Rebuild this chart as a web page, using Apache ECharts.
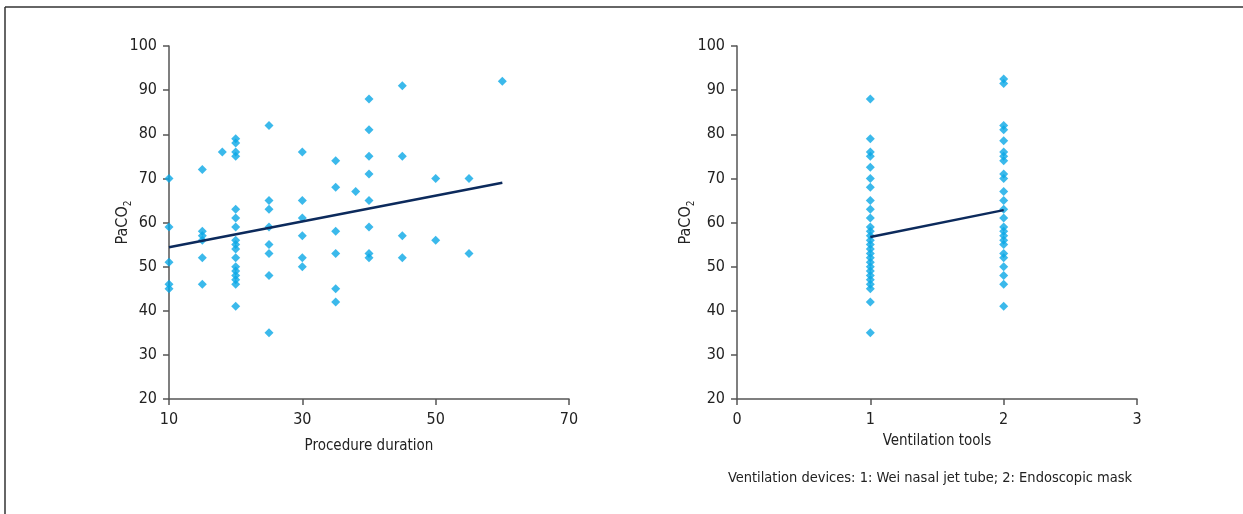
<!DOCTYPE html>
<html>
<head>
<meta charset="utf-8">
<script src="https://cdn.jsdelivr.net/npm/echarts@6/dist/echarts.min.js"></script>
<style>
  html, body { margin: 0; padding: 0; background: #fff; }
  #chart { width: 1243px; height: 514px; }
</style>
</head>
<body>
<div id="chart"></div>
<script>
// left panel: procedure duration vs PaCO2
const durationX = [
  10, 10, 10, 10, 10,
  15, 15, 15, 15, 15, 15,
  18,
  20, 20, 20, 20, 20, 20, 20, 20, 20, 20, 20, 20, 20, 20, 20, 20, 20,
  25, 25, 25, 25, 25, 25, 25, 25,
  30, 30, 30, 30, 30, 30,
  35, 35, 35, 35, 35, 35,
  38,
  40, 40, 40, 40, 40, 40, 40, 40,
  45, 45, 45, 45,
  50, 50,
  55, 55,
  60
];
const durationY = [
  70, 59, 51, 46, 45,
  72, 58, 57, 56, 52, 46,
  76,
  79, 78, 76, 75, 63, 61, 59, 56, 55, 54, 52, 50, 49, 48, 47, 46, 41,
  82, 65, 63, 59, 55, 53, 48, 35,
  76, 65, 61, 57, 52, 50,
  74, 68, 58, 53, 45, 42,
  67,
  88, 81, 75, 71, 65, 59, 53, 52,
  91, 75, 57, 52,
  70, 56,
  70, 53,
  92
];
const durationFitX = [10, 60];
const durationFitY = [54.4, 69.0];

// right panel: ventilation tool vs PaCO2
const tool1Y = [88, 79, 76, 75, 72.5, 70, 68, 65, 63, 61, 59, 58, 57, 56, 55, 54, 53, 52, 51, 50, 49, 48, 47, 46, 45, 42, 35];
const tool2Y = [92.5, 91.5, 82, 81, 78.5, 76, 75, 74, 71, 70, 67, 65, 63, 61, 59, 58, 57, 56, 55, 53, 52, 50, 48, 46, 41];
const toolFitX = [1, 2];
const toolFitY = [56.7, 62.8];

const yTicks = [20, 30, 40, 50, 60, 70, 80, 90, 100];

const FONT = '"Liberation Sans Narrow", "DejaVu Sans Condensed", "Roboto", sans-serif';
const axisColor = '#555';
const dotColor = '#0aa7e6';
const lineColor = '#0c2a5c';

const pairs = (xs, ys) => xs.map((x, i) => [x, ys[i]]);
const toolPoints = tool1Y.map(v => [1, v]).concat(tool2Y.map(v => [2, v]));

function xAxisOf(idx, min, max, interval, name, gap) {
  return {
    gridIndex: idx, type: 'value', min, max, interval,
    name, nameLocation: 'middle', nameGap: gap,
    nameTextStyle: { fontFamily: FONT, fontSize: 15, color: '#222' },
    axisLine: { lineStyle: { color: axisColor, width: 1.5 } },
    axisTick: { show: true, length: 6, lineStyle: { color: axisColor, width: 1.5 } },
    axisLabel: { fontFamily: FONT, fontSize: 16, color: '#222', margin: 13 },
    splitLine: { show: false }
  };
}

function yAxisOf(idx, gap) {
  return {
    gridIndex: idx, type: 'value', min: yTicks[0], max: yTicks[yTicks.length - 1], interval: 10,
    name: '{a|PaCO}{b|2}', nameLocation: 'middle', nameGap: gap,
    nameMoveOverlap: false,
    nameTextStyle: {
      rich: {
        a: { fontFamily: FONT, fontSize: 16, color: '#222' },
        b: { fontFamily: FONT, fontSize: 10, color: '#222', padding: [10, 0, 0, 0] }
      }
    },
    axisLine: { show: true, lineStyle: { color: axisColor, width: 1.5 } },
    axisTick: { show: true, length: 6, lineStyle: { color: axisColor, width: 1.5 } },
    axisLabel: { fontFamily: FONT, fontSize: 16, color: '#222', margin: 12 },
    splitLine: { show: false }
  };
}

const chart = echarts.init(document.getElementById('chart'));

chart.setOption({
  animation: false,
  backgroundColor: '#fff',
  grid: [
    { left: 169, right: 674, top: 46, bottom: 115 },
    { left: 737, right: 106, top: 46, bottom: 115 }
  ],
  xAxis: [
    xAxisOf(0, 10, 70, 20, 'Procedure duration', 40),
    xAxisOf(1, 0, 3, 1, 'Ventilation tools', 35)
  ],
  yAxis: [yAxisOf(0, 36), yAxisOf(1, 41)],
  graphic: [
    { type: 'line', shape: { x1: 5, y1: 7, x2: 1243, y2: 7 }, style: { stroke: '#333', lineWidth: 1.5 } },
    { type: 'line', shape: { x1: 5, y1: 7, x2: 5, y2: 514 }, style: { stroke: '#333', lineWidth: 1.5 } },
    {
      type: 'text', x: 930, y: 478,
      style: {
        text: 'Ventilation devices: 1: Wei nasal jet tube; 2: Endoscopic mask',
        fontFamily: FONT, fontSize: 14.5, fill: '#222',
        align: 'center', verticalAlign: 'middle'
      }
    }
  ],
  series: [
    {
      type: 'scatter', xAxisIndex: 0, yAxisIndex: 0,
      data: pairs(durationX, durationY),
      symbol: 'diamond', symbolSize: 9,
      itemStyle: { color: dotColor }
    },
    {
      type: 'line', xAxisIndex: 0, yAxisIndex: 0,
      data: pairs(durationFitX, durationFitY),
      showSymbol: false, lineStyle: { color: lineColor, width: 2.5 }, z: 3
    },
    {
      type: 'scatter', xAxisIndex: 1, yAxisIndex: 1,
      data: toolPoints,
      symbol: 'diamond', symbolSize: 9,
      itemStyle: { color: dotColor }
    },
    {
      type: 'line', xAxisIndex: 1, yAxisIndex: 1,
      data: pairs(toolFitX, toolFitY),
      showSymbol: false, lineStyle: { color: lineColor, width: 2.5 }, z: 3
    }
  ]
});
</script>
</body>
</html>
